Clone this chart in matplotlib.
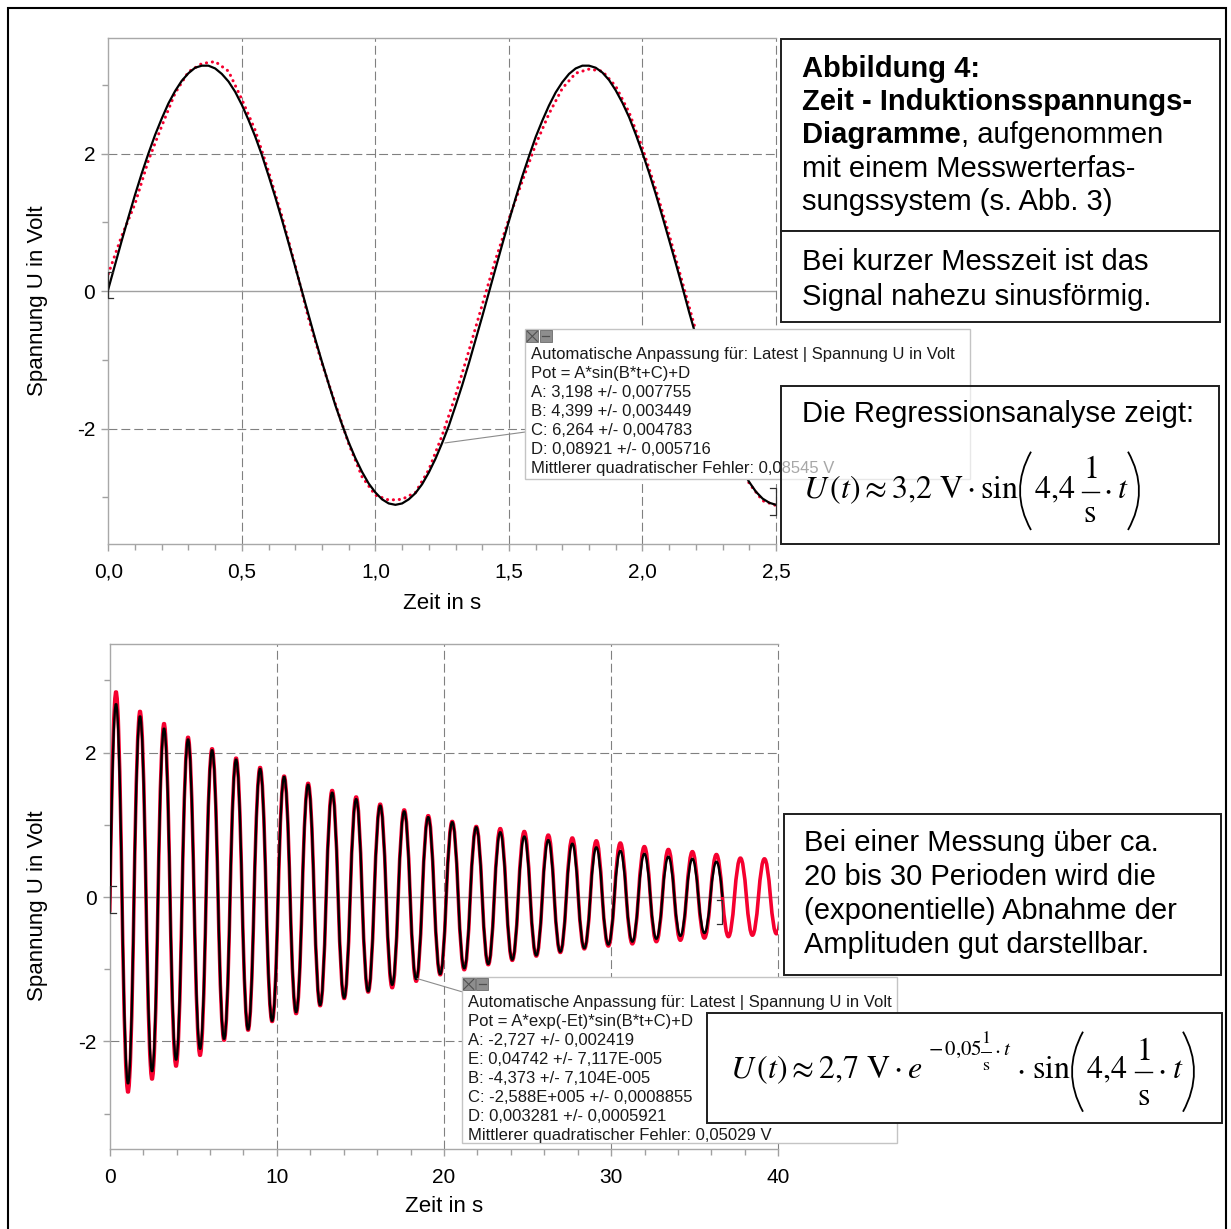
import numpy as np
import matplotlib.pyplot as plt
from matplotlib.patches import Rectangle, PathPatch, ConnectionPatch
from matplotlib.path import Path
from matplotlib.lines import Line2D
from matplotlib.ticker import MultipleLocator, FuncFormatter

plt.rcParams['font.family'] = ['Liberation Sans', 'DejaVu Sans']
plt.rcParams['mathtext.fontset'] = 'stix'
plt.rcParams['axes.unicode_minus'] = False

W, H = 1231, 1229
RED = '#f5002f'

# ---- top chart: short measurement 0 ... 2,5 s ----
# fit curve (black), read every 0.025 s
t_top_fit = np.arange(101) * 0.025
u_top_fit = [0.03, 0.38, 0.73, 1.07, 1.40, 1.71, 2.00, 2.27, 2.51, 2.73,
             2.91, 3.06, 3.17, 3.25, 3.28, 3.28, 3.24, 3.16, 3.05, 2.90,
             2.71, 2.49, 2.25, 1.98, 1.68, 1.37, 1.04, 0.70, 0.35, 0.00,
             -0.35, -0.70, -1.03, -1.35, -1.66, -1.94, -2.20, -2.43, -2.63, -2.80,
             -2.93, -3.03, -3.09, -3.11, -3.09, -3.03, -2.94, -2.81, -2.64, -2.44,
             -2.21, -1.96, -1.67, -1.37, -1.05, -0.71, -0.37, -0.02, 0.33, 0.68,
             1.02, 1.35, 1.67, 1.96, 2.24, 2.48, 2.70, 2.89, 3.04, 3.16,
             3.24, 3.28, 3.28, 3.25, 3.18, 3.07, 2.92, 2.74, 2.53, 2.28,
             2.01, 1.72, 1.41, 1.08, 0.74, 0.40, 0.05, -0.31, -0.65, -0.99,
             -1.31, -1.62, -1.91, -2.17, -2.40, -2.61, -2.78, -2.92, -3.02, -3.08,
             -3.11]
# measured values (red dots), read every 0.05 s
t_top_meas = np.arange(51) * 0.05
u_top_meas = [0.25, 0.80, 1.27, 1.90, 2.40, 2.88, 3.19, 3.31, 3.34, 3.20,
              2.79, 2.34, 1.74, 1.09, 0.37, -0.40, -1.05, -1.64, -2.22, -2.70,
              -2.97, -3.04, -3.03, -2.93, -2.60, -2.10, -1.52, -0.87, -0.20, 0.46,
              1.05, 1.60, 2.13, 2.58, 2.95, 3.17, 3.23, 3.20, 2.98, 2.60,
              2.08, 1.48, 0.82, 0.12, -0.58, -1.26, -1.86, -2.38, -2.80, -3.05,
              -3.12]

# ---- bottom chart: long measurement 0 ... 40 s ----
# one peak / trough value per half wave, half waves start at t_first_zero
u_start = -0.2
t_first_zero = 0.018
half_period = 0.7184
u_bot_fit_ext = [2.68, -2.59, 2.51, -2.42, 2.34, -2.26, 2.19, -2.11, 2.04, -1.97,
                 1.91, -1.84, 1.78, -1.72, 1.67, -1.60, 1.56, -1.50, 1.45, -1.40,
                 1.36, -1.31, 1.27, -1.22, 1.19, -1.14, 1.11, -1.07, 1.04, -0.99,
                 0.97, -0.93, 0.90, -0.87, 0.84, -0.81, 0.79, -0.76, 0.74, -0.71,
                 0.69, -0.66, 0.64, -0.62, 0.60, -0.58, 0.56, -0.54, 0.53, -0.50,
                 0.49]
u_bot_meas_ext = [2.85, -2.71, 2.58, -2.53, 2.41, -2.35, 2.22, -2.20, 2.06, -1.99,
                  1.93, -1.85, 1.80, -1.73, 1.68, -1.62, 1.58, -1.51, 1.48, -1.41,
                  1.39, -1.32, 1.29, -1.26, 1.21, -1.17, 1.13, -1.08, 1.05, -1.01,
                  0.98, -0.94, 0.95, -0.88, 0.91, -0.82, 0.86, -0.77, 0.82, -0.72,
                  0.78, -0.68, 0.75, -0.65, 0.70, -0.62, 0.66, -0.60, 0.63, -0.57,
                  0.59, -0.55, 0.54, -0.53, 0.53, -0.51]

fit_top_lines = ['Automatische Anpassung für: Latest | Spannung U in Volt',
                 'Pot = A*sin(B*t+C)+D',
                 'A: 3,198 +/- 0,007755',
                 'B: 4,399 +/- 0,003449',
                 'C: 6,264 +/- 0,004783',
                 'D: 0,08921 +/- 0,005716',
                 'Mittlerer quadratischer Fehler: 0,08545 V']
fit_bot_lines = ['Automatische Anpassung für: Latest | Spannung U in Volt',
                 'Pot = A*exp(-Et)*sin(B*t+C)+D',
                 'A: -2,727 +/- 0,002419',
                 'E: 0,04742 +/- 7,117E-005',
                 'B: -4,373 +/- 7,104E-005',
                 'C: -2,588E+005 +/- 0,0008855',
                 'D: 0,003281 +/- 0,0005921',
                 'Mittlerer quadratischer Fehler: 0,05029 V']


def fx(x):
    return x / W


def fy(y):
    return 1 - y / H


def halfwave_path(extremes):
    # each half wave is drawn as a bezier arc between two zero crossings
    verts = [(0, u_start), (t_first_zero, 0)]
    codes = [Path.MOVETO, Path.LINETO]
    for k, v in enumerate(extremes):
        ta = t_first_zero + k * half_period
        verts += [(ta + half_period / 2, 2 * v), (ta + half_period, 0)]
        codes += [Path.CURVE3, Path.CURVE3]
    return Path(verts, codes)


def style(ax, xmax, xmaj, xmin, ylim, xfmt):
    ax.set_xlim(0, xmax)
    ax.set_ylim(*ylim)
    ax.spines['right'].set_visible(False)
    for s in ('left', 'bottom', 'top'):
        ax.spines[s].set_color('#a8a8a8')
        ax.spines[s].set_linewidth(1.0)
    ax.xaxis.set_major_locator(MultipleLocator(xmaj))
    ax.xaxis.set_minor_locator(MultipleLocator(xmin))
    ax.yaxis.set_major_locator(MultipleLocator(2))
    ax.yaxis.set_minor_locator(MultipleLocator(1))
    ax.xaxis.set_major_formatter(FuncFormatter(xfmt))
    ax.yaxis.set_major_formatter(FuncFormatter(lambda v, p: f'{v:.0f}'))
    ax.tick_params(which='both', direction='out', color='#a0a0a0', width=1.0,
                   labelsize=15, labelcolor='black')
    ax.tick_params(which='major', length=5)
    ax.tick_params(which='minor', length=4)
    ax.tick_params(axis='x', pad=8.5)
    ax.tick_params(axis='y', pad=4.5)
    for xv in np.arange(xmaj, xmax + 1e-9, xmaj):
        ax.axvline(xv, color='#808080', lw=0.8, ls=(0, (8, 3.6)), zorder=1, clip_on=False)
    for yv in (-2, 2):
        ax.axhline(yv, color='#808080', lw=0.8, ls=(0, (8, 3.6)), zorder=1)
    ax.axhline(0, color='#a0a0a0', lw=1.0, zorder=1)


def bracket(ax, x, y0, y1, dx):
    ax.plot([x + dx, x, x, x + dx], [y0, y0, y1, y1], color='#303030',
            lw=0.9, clip_on=False, zorder=5)


def fit_box(x0, y0, x1, y1, lines):
    fig.add_artist(Rectangle((fx(x0), fy(y1)), (x1 - x0) / W, (y1 - y0) / H,
                             transform=fig.transFigure, fc='white', ec='#c4c4c4',
                             lw=1.0, zorder=2))
    for i in range(2):
        fig.add_artist(Rectangle((fx(x0 + 1 + 13.5 * i), fy(y0 + 13)), 12 / W, 12 / H,
                                 transform=fig.transFigure, fc='#8e8e8e', ec='#6c6c6c',
                                 lw=0.6, zorder=2.5))
    fig.add_artist(Line2D([fx(x0 + 2), fx(x0 + 12)], [fy(y0 + 2), fy(y0 + 12)],
                          transform=fig.transFigure, color='#505050', lw=0.8, zorder=2.6))
    fig.add_artist(Line2D([fx(x0 + 2), fx(x0 + 12)], [fy(y0 + 12), fy(y0 + 2)],
                          transform=fig.transFigure, color='#505050', lw=0.8, zorder=2.6))
    fig.add_artist(Line2D([fx(x0 + 17), fx(x0 + 24)], [fy(y0 + 7), fy(y0 + 7)],
                          transform=fig.transFigure, color='#505050', lw=0.9, zorder=2.6))
    for i, s in enumerate(lines):
        fig.text(fx(x0 + 6), fy(y0 + 30 + 19 * i), s, fontsize=12.0, va='baseline',
                 color='#1a1a1a', zorder=3)


def text_box(x0, y0, x1, y1, alpha=1.0):
    fig.add_artist(Rectangle((fx(x0), fy(y1)), (x1 - x0) / W, (y1 - y0) / H,
                             transform=fig.transFigure, fc=(1, 1, 1, alpha), ec='#1e1e1e',
                             lw=1.4, zorder=4))


def mt(x, y, s, fs, ha='left'):
    fig.text(fx(x), fy(y), s, fontsize=fs, va='baseline', ha=ha, zorder=5)


def paren(x0, x1, top, bot, left):
    # big round bracket drawn as a thin bezier arc
    if left:
        xe, xc = x1, 2 * (x0 + 1) - x1
    else:
        xe, xc = x0, 2 * (x1 - 1) - x0
    verts = [(fx(xe), fy(top)), (fx(xc), fy((top + bot) / 2)), (fx(xe), fy(bot))]
    fig.add_artist(PathPatch(Path(verts, [Path.MOVETO, Path.CURVE3, Path.CURVE3]),
                             transform=fig.transFigure, fill=False, lw=1.3,
                             ec='black', zorder=5))


def frac(xc, y_bar, half, num_base, den_base, fs, lw):
    fig.add_artist(Line2D([fx(xc - half), fx(xc + half)], [fy(y_bar)] * 2,
                          transform=fig.transFigure, color='black', lw=lw, zorder=5))
    mt(xc, num_base, r'$1$', fs, ha='center')
    mt(xc, den_base, r'$\mathrm{s}$', fs, ha='center')


fig = plt.figure(figsize=(W / 100, H / 100), dpi=100)

# outer frame
fig.add_artist(Rectangle((fx(8), -0.05), (1226 - 8) / W, 1 - 8 / H + 0.05,
                         transform=fig.transFigure, fill=False, ec='black', lw=1.5, zorder=6))

ax1 = fig.add_axes([fx(108.3), fy(544), (776 - 108.3) / W, (544 - 37.5) / H])
ax2 = fig.add_axes([fx(109.7), fy(1149), (778.3 - 109.7) / W, (1149 - 644.3) / H])

# top chart
ax1.plot(t_top_meas, u_top_meas, color=RED, lw=2.2, ls=(0, (0.05, 1.9)),
         dash_capstyle='round', zorder=3)
ax1.plot(t_top_fit, u_top_fit, color='black', lw=1.6, solid_joinstyle='round', zorder=4)
style(ax1, 2.5, 0.5, 0.1, (-3.68, 3.69), lambda v, p: f'{v:.1f}'.replace('.', ','))
bracket(ax1, t_top_fit[0], u_top_fit[0] + 0.25, u_top_fit[0] - 0.13, 0.019)
bracket(ax1, t_top_fit[-1], u_top_fit[-1] + 0.24, u_top_fit[-1] - 0.15, -0.022)
ax1.set_xlabel('Zeit in s', fontsize=16)
ax1.xaxis.set_label_coords(0.5, -0.097)
ax1.set_ylabel('Spannung U in Volt', fontsize=16)
ax1.yaxis.set_label_coords(-0.090, 0.480)

# bottom chart
ax2.add_patch(PathPatch(halfwave_path(u_bot_meas_ext), fill=False, ec=RED, lw=2.6,
                        joinstyle='round', capstyle='round', zorder=3))
ax2.add_patch(PathPatch(halfwave_path(u_bot_fit_ext), fill=False, ec='black', lw=1.7,
                        joinstyle='round', zorder=4))
style(ax2, 40, 10, 2, (-3.49, 3.50), lambda v, p: f'{v:.0f}')
t_fit_end = t_first_zero + len(u_bot_fit_ext) * half_period
bracket(ax2, 0, 0.15, -0.22, 0.4)
bracket(ax2, t_fit_end, -0.04, -0.38, -0.34)
ax2.set_xlabel('Zeit in s', fontsize=16)
ax2.xaxis.set_label_coords(0.5, -0.094)
ax2.set_ylabel('Spannung U in Volt', fontsize=16)
ax2.yaxis.set_label_coords(-0.092, 0.482)

# fit result boxes with connector lines
fit_box(525.3, 329.3, 970, 479.3, fit_top_lines)
fit_box(461.7, 977.3, 897.3, 1142.7, fit_bot_lines)
for ax, xy, xyb in ((ax1, (1.26, -2.21), (525.3, 432)), (ax2, (18.4, -1.13), (461.7, 991.7))):
    fig.add_artist(ConnectionPatch(xyA=xy, coordsA=ax.transData,
                                   xyB=(fx(xyb[0]), fy(xyb[1])), coordsB=fig.transFigure,
                                   color='#8c8c8c', lw=0.8, zorder=1.5))

# text boxes on the right
FS = 21
text_box(781, 39, 1220, 231)
text_box(781, 231, 1220, 321.7)
text_box(780.7, 385.7, 1219, 544, alpha=0.62)
text_box(784, 814, 1220.7, 975)
text_box(707, 1013, 1221.7, 1122.7)

fig.text(fx(802), fy(76.7), 'Abbildung 4:', fontsize=FS, weight='bold', va='baseline', zorder=5)
fig.text(fx(802), fy(110), 'Zeit - Induktionsspannungs-', fontsize=FS, weight='bold',
         va='baseline', zorder=5)
t_bold = fig.text(fx(802), fy(143.3), 'Diagramme', fontsize=FS, weight='bold',
                  va='baseline', zorder=5)
renderer = fig.canvas.get_renderer()
x_after = t_bold.get_window_extent(renderer=renderer).x1 / W
fig.text(x_after, fy(143.3), ', aufgenommen', fontsize=FS, va='baseline', zorder=5)
fig.text(fx(802), fy(176.7), 'mit einem Messwerterfas-', fontsize=FS, va='baseline', zorder=5)
fig.text(fx(802), fy(210), 'sungssystem (s. Abb. 3)', fontsize=FS, va='baseline', zorder=5)

fig.text(fx(802), fy(270), 'Bei kurzer Messzeit ist das', fontsize=FS, va='baseline', zorder=5)
fig.text(fx(802), fy(305), 'Signal nahezu sinusförmig.', fontsize=FS, va='baseline', zorder=5)

fig.text(fx(801.7), fy(421.7), 'Die Regressionsanalyse zeigt:', fontsize=FS,
         va='baseline', zorder=5)

# formula 1: U(t) = 3,2 V * sin(4,4 1/s * t)
mt(803, 498.3, r'$U\,(t)\approx 3{,}2\ \mathrm{V}\cdot\mathrm{sin}$', 23)
paren(1019, 1031, 451.7, 530, True)
mt(1034, 498.3, r'$4{,}4$', 23)
frac(1090, 491.7, 8.5, 478, 521.7, 23, 1.0)
mt(1107, 498.3, r'$\cdot$', 23, ha='center')
mt(1117, 498.3, r'$t$', 23)
paren(1128, 1140, 451.7, 530, False)

for i, s in enumerate(['Bei einer Messung über ca.', '20 bis 30 Perioden wird die',
                       '(exponentielle) Abnahme der', 'Amplituden gut darstellbar.']):
    fig.text(fx(804), fy(851 + 34.1 * i), s, fontsize=FS, va='baseline', zorder=5)

# formula 2: U(t) = 2,7 V * e^(-0,05 1/s * t) * sin(4,4 1/s * t)
mt(730, 1078, r'$U\,(t)\approx 2{,}7\ \mathrm{V}\cdot e$', 23)
mt(928, 1055, r'$-\,0{,}05$', 15)
frac(986, 1051.7, 4.5, 1043.3, 1070, 13, 0.7)
mt(997, 1055, r'$\cdot$', 15, ha='center')
mt(1003, 1055, r'$t$', 15)
mt(1020, 1078, r'$\cdot$', 23, ha='center')
mt(1031.7, 1078, r'$\mathrm{sin}$', 23)
paren(1071, 1083, 1031.7, 1111.7, True)
mt(1086, 1078, r'$4{,}4$', 23)
frac(1143.3, 1071.7, 8.5, 1060, 1105, 23, 1.0)
mt(1161.7, 1078, r'$\cdot$', 23, ha='center')
mt(1171.7, 1078, r'$t$', 23)
paren(1183, 1195, 1031.7, 1111.7, False)

fig.savefig('out.png', dpi=100)
